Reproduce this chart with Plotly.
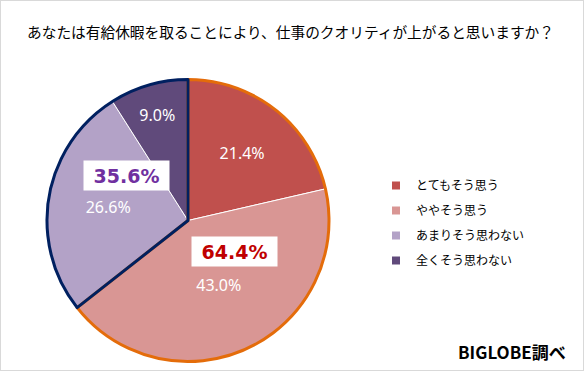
import plotly.graph_objects as go

# ---- data ----
categories = ["とてもそう思う", "ややそう思う", "あまりそう思わない", "全くそう思わない"]
values = [21.4, 43.0, 26.6, 9.0]
colors = ["#C0504D", "#D99694", "#B3A2C7", "#604A7B"]
group_names = ["思う", "思わない"]
group_values = [round(values[0] + values[1], 1), round(values[2] + values[3], 1)]
group_line_colors = ["#E46C0A", "#002060"]
group_text_colors = ["#C00000", "#7030A0"]
title_text = "あなたは有給休暇を取ることにより、仕事のクオリティが上がると思いますか？"
source_text = "BIGLOBE調べ"

W, H = 584, 371
cx, cy, R = 188, 220.5, 141

dom_x = [(cx - R) / W, (cx + R) / W]
dom_y = [(H - cy - R) / H, (H - cy + R) / H]

fig = go.Figure()

fig.add_trace(go.Pie(
    labels=categories, values=values, sort=False, direction="clockwise", rotation=0,
    marker=dict(colors=colors, line=dict(color="white", width=1)),
    texttemplate="%{value:.1f}%", textposition="inside",
    insidetextorientation="horizontal",
    textfont=dict(family="Noto Sans", size=16, color="white"),
    domain=dict(x=dom_x, y=dom_y), showlegend=False, hoverinfo="label+value",
))

fig.add_trace(go.Pie(
    labels=group_names, values=group_values, sort=False, direction="clockwise", rotation=0,
    marker=dict(colors=["rgba(0,0,0,0)", "rgba(0,0,0,0)"],
                line=dict(color=group_line_colors, width=3)),
    textinfo="none", domain=dict(x=dom_x, y=dom_y), showlegend=False, hoverinfo="skip",
))

# legend entries
for i, (c, col) in enumerate(zip(categories, colors)):
    fig.add_trace(go.Scatter(
        x=[None], y=[None], mode="markers", name=c, legendgroup=str(i),
        marker=dict(symbol="square", size=8, color=col),
    ))

# group labels
grp_positions = [(234, 251), (126, 175)]
for gv, tc, (px, py) in zip(group_values, group_text_colors, grp_positions):
    fig.add_annotation(
        x=px / W, y=1 - py / H, xref="paper", yref="paper", showarrow=False,
        text=f"<b>{gv:.1f}%</b>", width=83, height=27, bgcolor="white",
        font=dict(family="DejaVu Sans", size=19, color=tc),
        xanchor="center", yanchor="middle",
    )

fig.add_annotation(
    x=290 / W, y=1 - 32 / H, xref="paper", yref="paper", showarrow=False,
    text=title_text, font=dict(family="Noto Sans CJK JP", size=14.7, color="#000000"),
    xanchor="center", yanchor="middle",
)
fig.add_annotation(
    x=568 / W, y=1 - 351 / H, xref="paper", yref="paper", showarrow=False,
    text=f"<b>{source_text}</b>", font=dict(family="Noto Sans CJK JP", size=17, color="#000000"),
    xanchor="right", yanchor="middle",
)

fig.add_shape(type="rect", xref="paper", yref="paper", x0=0, y0=0, x1=1, y1=1,
              line=dict(color="#D9D9D9", width=2), fillcolor="rgba(0,0,0,0)")

fig.update_layout(
    width=W, height=H, margin=dict(l=0, r=0, t=0, b=0),
    paper_bgcolor="white", plot_bgcolor="white",
    xaxis=dict(visible=False, domain=[0.99, 1]), yaxis=dict(visible=False, domain=[0.99, 1]),
    legend=dict(x=376 / W, y=1 - 171 / H, xanchor="left", yanchor="top",
                font=dict(family="Noto Sans CJK JP", size=12, color="#000000"),
                traceorder="grouped", tracegroupgap=6, itemwidth=30,
                bgcolor="rgba(0,0,0,0)"),
)

fig.write_html("out.html", config={"displayModeBar": False})

with open("out.html", encoding="utf-8") as f:
    html = f.read()
html = html.replace("<body>", '<body style="margin:0;padding:0;overflow:hidden">', 1)
with open("out.html", "w", encoding="utf-8") as f:
    f.write(html)
